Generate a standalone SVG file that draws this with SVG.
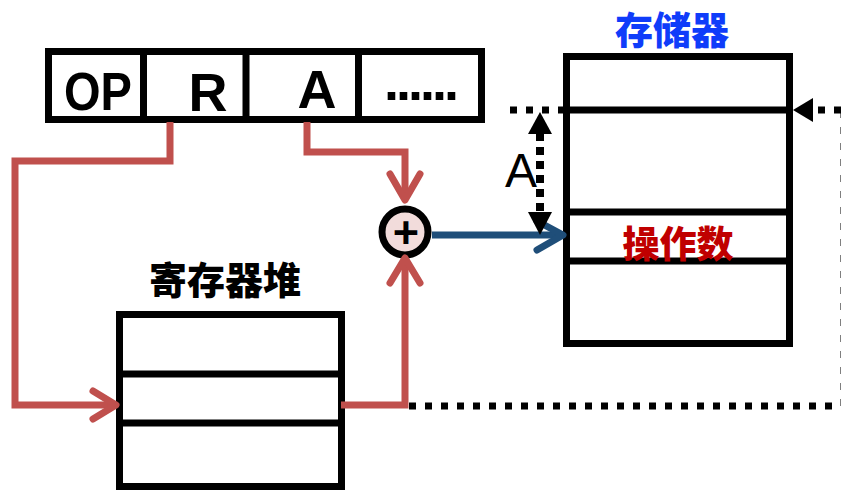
<svg xmlns="http://www.w3.org/2000/svg" width="841" height="490" viewBox="0 0 841 490">
<style>
.box{fill:#fff;stroke:#000;stroke-width:7}
.ln{stroke:#000;stroke-width:7;fill:none}
.red{stroke:#c0504d;stroke-width:7;fill:none;stroke-linejoin:miter}
.head{stroke:#c0504d;stroke-width:7;fill:none;stroke-linecap:round;stroke-linejoin:round}
.dot{stroke:#000;stroke-width:7;fill:none;stroke-dasharray:7 9}
.big{font-family:"Liberation Sans","Noto Sans",sans-serif;font-weight:bold;font-size:54px;fill:#000;text-anchor:middle}
.cjk{font-family:"Noto Sans CJK SC","Liberation Sans",sans-serif;font-weight:900;text-anchor:middle}
</style>
<rect width="841" height="490" fill="#fff"/>
<g id="instruction">
<rect class="box" x="48.5" y="51.5" width="433" height="68"/>
<line class="ln" x1="143.5" y1="51.5" x2="143.5" y2="119.5"/>
<line class="ln" x1="246" y1="51.5" x2="246" y2="119.5"/>
<line class="ln" x1="358.5" y1="51.5" x2="358.5" y2="119.5"/>
<text class="big" x="98" y="110" textLength="68" lengthAdjust="spacingAndGlyphs">OP</text>
<text class="big" x="208" y="111">R</text>
<text class="big" x="317" y="108">A</text>
<text class="big" x="420" y="100" font-size="50" letter-spacing="-3">......</text>
</g>
<g id="regfile">
<text class="cjk" x="225" y="294" font-size="38">寄存器堆</text>
<rect class="box" x="119.5" y="314.5" width="222" height="172"/>
<line class="ln" x1="119.5" y1="374" x2="341.5" y2="374"/>
<line class="ln" x1="119.5" y1="423" x2="341.5" y2="423"/>
</g>
<g id="memory">
<text class="cjk" x="672" y="44" font-size="38" fill="#0f3cfa">存储器</text>
<rect class="box" x="566.5" y="56.5" width="223" height="287"/>
<line class="ln" x1="566.5" y1="110" x2="789.5" y2="110"/>
<line class="ln" x1="566.5" y1="212" x2="789.5" y2="212"/>
<line class="ln" x1="566.5" y1="261" x2="789.5" y2="261"/>
<text class="cjk" x="678" y="258" font-size="37" fill="#c00000">操作数</text>
</g>
<g id="adder">
<circle cx="405" cy="232" r="23" fill="#f2dcdb" stroke="#000" stroke-width="7"/>
<text x="406" y="248" font-family="Liberation Sans,sans-serif" font-weight="bold" font-size="45" text-anchor="middle" fill="#000">+</text>
</g>
<g id="connectors">
<polyline class="red" points="170,122 170,161 15,161 15,405 115,405"/>
<polyline class="head" points="93,391 116,405 93,419"/>
<polyline class="red" points="307,122 307,152 405,152 405,200"/>
<polyline class="head" points="390,174 405,200 420,174"/>
<polyline class="red" points="341,405 405,405 405,260"/>
<polyline class="head" points="390,283 405,258 420,283"/>
<line x1="432" y1="235" x2="562" y2="235" stroke="#1f4e79" stroke-width="7"/>
<polyline points="537,221 563,235 537,250" stroke="#1f4e79" stroke-width="7" fill="none" stroke-linecap="round" stroke-linejoin="round"/>
<line class="dot" x1="409" y1="406" x2="841" y2="406"/>
<line class="dot" x1="844" y1="406" x2="844" y2="110"/>
<line class="dot" x1="841" y1="110" x2="813" y2="110"/>
<polygon points="793,110 813,98 813,122" fill="#000"/>
<line class="dot" x1="510" y1="110" x2="563" y2="110"/>
<line x1="540" y1="133" x2="540" y2="212" stroke="#000" stroke-width="8" stroke-dasharray="8 6"/>
<polygon points="540,112 528,134 552,134" fill="#000"/>
<polygon points="540,235 528,212 552,212" fill="#000"/>
<text x="521" y="187" font-family="Liberation Sans,sans-serif" font-size="48" text-anchor="middle" fill="#000">A</text>
</g>
</svg>
